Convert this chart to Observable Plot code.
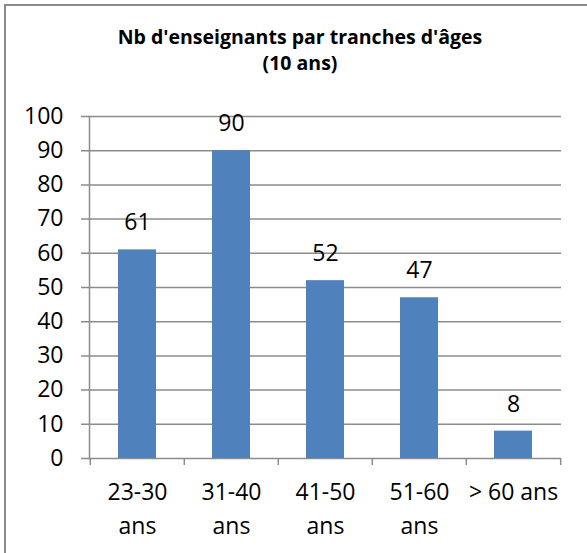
<!DOCTYPE html>
<html><head><meta charset="utf-8">
<script src="https://cdn.jsdelivr.net/npm/d3@7"></script>
<script src="https://cdn.jsdelivr.net/npm/@observablehq/plot@0.6"></script>
<style>
body{margin:0;background:#fff;}
#wrap{position:relative;width:587px;height:553px;overflow:hidden;font-family:"Open Sans",sans-serif;background:#fff;}
#frame{position:absolute;left:4px;top:4px;width:620px;height:620px;border:2px solid #8a8a8a;box-sizing:border-box;}
#title{position:absolute;left:0;top:24px;width:600px;text-align:center;font-weight:bold;font-size:19.5px;line-height:26px;color:#000;}
#chart{position:absolute;left:0;top:0;}
</style>
</head><body>
<div id="wrap">
  <div id="frame"></div>
  <div id="chart"></div>
  <div id="title">Nb d'enseignants par tranches d'âges<br>(10 ans)</div>
</div>
<script>
const categories = ["23-30\nans", "31-40\nans", "41-50\nans", "51-60\nans", "> 60 ans"];
const values = [61, 90, 52, 47, 8];
const yTicks = [0, 10, 20, 30, 40, 50, 60, 70, 80, 90, 100];

const data = categories.map((c, i) => ({cat: c, value: values[i]}));
const gray = "#8c8c8c";
const W = 587, H = 553, mL = 89, mR = 26;
const half = (W - mL - mR) / categories.length / 2;

const chart = Plot.plot({
  width: W, height: H,
  marginTop: 116, marginBottom: 95, marginLeft: mL, marginRight: mR,
  style: {fontFamily: "'Open Sans', sans-serif", fontSize: "23px", color: "#000", background: "transparent"},
  x: {domain: categories, paddingInner: 0.6, paddingOuter: 0.3, label: null},
  y: {domain: [0, 100], label: null},
  marks: [
    Plot.ruleY(yTicks, {stroke: gray, strokeWidth: 1.5, insetLeft: -8}),
    Plot.frame({anchor: "left", stroke: gray, strokeWidth: 1.5}),
    Plot.ruleX(categories, {x: d => d, y1: 0, y2: 0, dx: -half, insetBottom: -7, stroke: gray, strokeWidth: 1.5}),
    Plot.ruleX(categories.slice(-1), {x: d => d, y1: 0, y2: 0, dx: half, insetBottom: -7, stroke: gray, strokeWidth: 1.5}),
    Plot.barY(data, {x: "cat", y: "value", fill: "#4F81BD"}),
    Plot.text(data, {x: "cat", y: "value", text: d => String(d.value), dy: -27, fontSize: 23, fill: "#000"}),
    Plot.axisY({ticks: yTicks, tickSize: 0, tickPadding: 26, fontSize: 23, label: null}),
    Plot.axisX({tickSize: 0, tickPadding: 17, fontSize: 23, lineHeight: 1.48, label: null})
  ]
});
document.getElementById("chart").appendChild(chart);
</script>
</body></html>
